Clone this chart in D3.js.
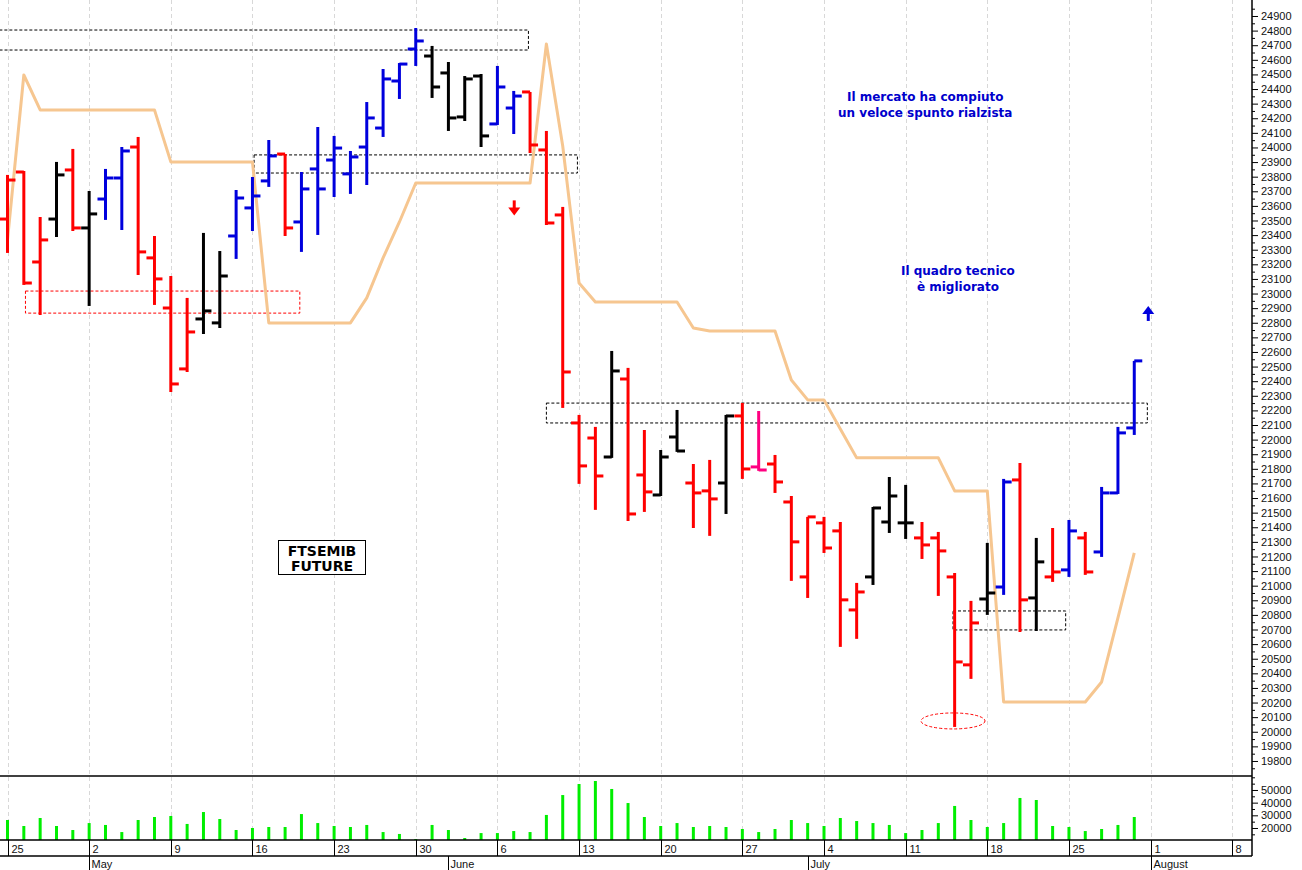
<!DOCTYPE html>
<html><head><meta charset="utf-8">
<script src="https://cdn.jsdelivr.net/npm/d3@7"></script>
<style>body{margin:0;background:#fff}svg{display:block}</style>
</head><body>
<script>
const open  = [23510,23832,23216,23510,23846,23449,23647,23791,24003,23244,22901,22484,22826,22799,23394,23586,23771,23955,23490,23853,23914,23819,24003,24133,24455,24674,24626,24510,24209,24489,24161,24270,24380,23983,23538,22114,22011,21881,22415,21758,21621,22018,21703,21649,21703,22162,21813,21833,21573,21060,21430,21375,20834,21060,21436,21430,21327,21327,21060,20458,20909,20991,21724,20916,21060,21108,21327,21231,21635,22080];
const high  = [23812,23839,23524,23901,23990,23702,23853,24003,24072,23394,23120,22970,23415,23291,23709,23798,24051,23955,23832,24140,24079,23976,24311,24537,24578,24818,24695,24585,24489,24503,24558,24387,24380,24113,23593,22169,22087,22607,22491,22066,21929,22203,21833,21861,22169,22251,22196,21895,21614,21471,21471,21436,21019,21539,21744,21690,21436,21368,21087,20896,21293,21731,21840,21327,21395,21450,21368,21676,22087,22539];
const low   = [23278,23059,22853,23387,23428,22915,23504,23435,23127,22922,22326,22463,22723,22764,23237,23428,23730,23394,23285,23401,23661,23682,23743,24072,24332,24558,24339,24113,24181,24003,24154,24092,23962,23469,22217,21697,21519,21875,21443,21505,21614,21916,21395,21341,21491,21731,21786,21635,21033,20916,21224,20581,20636,21005,21361,21320,21183,20930,20033,20362,20800,20937,20683,20690,21026,21060,21074,21197,21628,22032];
const close = [23777,23072,23367,23812,23449,23545,23791,23976,23285,23100,22381,22737,22881,23120,23654,23668,23942,23449,23716,23716,23996,23935,24202,24469,24571,24729,24414,24202,24469,24079,24414,24352,24017,23483,22463,21820,21751,22470,21491,21642,21881,21922,21635,21594,22162,21799,21792,21710,21300,21471,21258,20903,20957,21532,21614,21430,21279,21238,20478,20745,20950,21710,20903,21163,21094,21375,21094,21635,22046,22539];
const barColor = ["r","r","r","k","r","k","b","b","r","r","r","r","k","k","b","b","b","r","b","b","b","b","b","b","b","b","k","k","k","k","b","b","r","r","r","r","r","k","r","r","k","k","r","r","k","r","m","r","r","r","r","r","r","k","k","k","r","r","r","r","k","b","r","k","r","b","r","b","b","b"];
const stopLine = [23367,24496,24257,24257,24257,24257,24257,24257,24257,24257,23901,23901,23901,23901,23901,23901,22799,22799,22799,22799,22799,22799,22970,23244,23490,23757,23757,23757,23757,23757,23757,23757,23757,24708,24010,23072,22942,22942,22942,22942,22942,22942,22764,22744,22744,22744,22744,22744,22408,22272,22272,22073,21875,21875,21875,21875,21875,21875,21649,21649,21649,20204,20204,20204,20204,20204,20204,20341,20779,21224];
const volume = [26300,21600,27900,21600,18400,23900,22400,16800,26300,28700,29500,23200,32600,27100,18400,20000,20800,20800,31000,23900,21600,20800,22400,16800,15300,11300,22400,18400,12100,16000,16000,17600,16800,30300,46000,54700,57100,50800,39700,28700,21600,23900,20800,21600,20800,19200,16800,19200,26300,23900,21600,27900,25500,23900,22400,16000,18400,23900,37400,26300,20800,23900,43700,42100,21600,20800,17600,19200,22400,28700];
const dayTicks = [[0,"25"],[5,"2"],[10,"9"],[15,"16"],[20,"23"],[25,"30"],[30,"6"],[35,"13"],[40,"20"],[45,"27"],[50,"4"],[55,"11"],[60,"18"],[65,"25"],[70,"1"],[75,"8"]];
const monthTicks = [[5,"May"],[27,"June"],[49,"July"],[70,"August"]];
const priceTicks = d3.range(19800, 24901, 100);
const volTicks = [20000,30000,40000,50000];
// annotation zones: [startIndex, endIndex, upperPrice, lowerPrice, color]
const zones = [[-0.5,31.9,24804,24667,"#000"],[15.1,34.9,23949,23825,"#000"],[1.1,17.9,23017,22866,"red"],[33,69.8,22250,22114,"#000"],[57.9,64.8,20827,20697,"#000"]];
const notes = [[56.2,24315,"Il mercato ha compiuto"],[56.2,24210,"un veloce spunto rialzista"],[58.2,23125,"Il quadro tecnico"],[58.2,23020,"è migliorato"]];

const W=1302,H=870, axX=1252;
const colors={r:"#ff0000",k:"#000000",b:"#0000dd",m:"#ff0080"};
const svg=d3.select("body").append("svg").attr("width",W).attr("height",H);
const x=d3.scaleLinear().domain([0,69]).range([7.5,7.5+16.33*69]);
const y=d3.scaleLinear().domain([19704,25009.5]).range([775,0]);
const yv=d3.scaleLinear().domain([10530,61030]).range([840,776]);

const grid=svg.append("g");
dayTicks.forEach(([k])=>{const gx=Math.round(x(k))+0.5; if(gx<axX) grid.append("line").attr("x1",gx).attr("x2",gx).attr("y1",0).attr("y2",840).attr("stroke","#d8d8d8").attr("stroke-dasharray","4,3");});

zones.forEach(([a,b,p1,p2,c])=>{svg.append("rect").attr("x",x(a)).attr("y",y(p1)).attr("width",x(b)-x(a)).attr("height",y(p2)-y(p1)).attr("fill","none").attr("stroke",c).attr("stroke-width",1).attr("stroke-dasharray","3,2");});
svg.append("ellipse").attr("cx",x(57.9)).attr("cy",y(20074)).attr("rx",32).attr("ry",8).attr("fill","none").attr("stroke","red").attr("stroke-dasharray","3,2");

svg.append("path").datum(stopLine).attr("d",d3.line().x((d,i)=>x(i)).y(d=>y(d))).attr("fill","none").attr("stroke","#f6c690").attr("stroke-width",3).attr("stroke-linejoin","round");

const bars=svg.append("g");
open.forEach((o,i)=>{
  const c=colors[barColor[i]], cx=x(i);
  bars.append("line").attr("x1",cx).attr("x2",cx).attr("y1",y(high[i])).attr("y2",y(low[i])).attr("stroke",c).attr("stroke-width",3);
  bars.append("line").attr("x1",cx-8).attr("x2",cx).attr("y1",y(o)).attr("y2",y(o)).attr("stroke",c).attr("stroke-width",3);
  bars.append("line").attr("x1",cx).attr("x2",cx+8).attr("y1",y(close[i])).attr("y2",y(close[i])).attr("stroke",c).attr("stroke-width",3);
});

volume.forEach((v,i)=>{svg.append("line").attr("x1",x(i)).attr("x2",x(i)).attr("y1",yv(v)).attr("y2",840).attr("stroke","#00ee00").attr("stroke-width",3);});

svg.append("line").attr("x1",0).attr("x2",axX).attr("y1",776).attr("y2",776).attr("stroke","#000").attr("stroke-width",1.5);
svg.append("line").attr("x1",0).attr("x2",axX).attr("y1",840).attr("y2",840).attr("stroke","#000").attr("stroke-width",1.5);
svg.append("line").attr("x1",0).attr("x2",axX).attr("y1",856).attr("y2",856).attr("stroke","#000").attr("stroke-width",1.5);
svg.append("line").attr("x1",axX).attr("x2",axX).attr("y1",0).attr("y2",856).attr("stroke","#000").attr("stroke-width",1.5);

const pa=svg.append("g").attr("transform",`translate(${axX},0)`).call(d3.axisRight(y).tickValues(priceTicks).tickSize(6).tickFormat(d3.format("d")));
pa.select(".domain").remove();
pa.selectAll("text").attr("font-family","Liberation Sans, Arial").attr("font-size",11).attr("fill","#111");
const minor=d3.range(19750,24951,100);
svg.append("g").attr("transform",`translate(${axX},0)`).call(d3.axisRight(y).tickValues(minor).tickSize(3).tickFormat("")).select(".domain").remove();
const va=svg.append("g").attr("transform",`translate(${axX},0)`).call(d3.axisRight(yv).tickValues(volTicks).tickSize(6).tickFormat(d3.format("d")));
va.select(".domain").remove();
va.selectAll("text").attr("font-family","Liberation Sans, Arial").attr("font-size",11).attr("fill","#111");
svg.append("g").attr("transform",`translate(${axX},0)`).call(d3.axisRight(yv).tickValues([15000,25000,35000,45000,55000,60000]).tickSize(3).tickFormat("")).select(".domain").remove();

dayTicks.forEach(([k,t])=>{const gx=Math.round(x(k))+0.5;
  svg.append("line").attr("x1",gx).attr("x2",gx).attr("y1",840).attr("y2",856).attr("stroke","#000");
  svg.append("text").attr("x",gx+3).attr("y",853).text(t).attr("font-family","Liberation Sans, Arial").attr("font-size",11).attr("fill","#111");});
monthTicks.forEach(([k,t])=>{const gx=Math.round(x(k))+0.5;
  svg.append("line").attr("x1",gx).attr("x2",gx).attr("y1",856).attr("y2",870).attr("stroke","#000");
  svg.append("text").attr("x",gx+2).attr("y",868).text(t).attr("font-family","Liberation Sans, Arial").attr("font-size",11).attr("fill","#111");});

notes.forEach(([k,p,t])=>svg.append("text").attr("x",x(k)).attr("y",y(p)).attr("text-anchor","middle").text(t).attr("font-family","DejaVu Sans, Verdana").attr("font-weight","bold").attr("font-size",12).attr("fill","#0000cc"));

svg.append("rect").attr("x",278.5).attr("y",540.5).attr("width",87).attr("height",34).attr("fill","#fff").attr("stroke","#000");
[["FTSEMIB",556],["FUTURE",571]].forEach(([t,yy])=>svg.append("text").attr("x",322).attr("y",yy).attr("text-anchor","middle").text(t).attr("font-family","DejaVu Sans, Verdana").attr("font-weight","bold").attr("font-size",14).attr("fill","#000"));

function arrow(cx,tipY,dir,c){const g=svg.append("g");
  g.append("line").attr("x1",cx).attr("x2",cx).attr("y1",tipY-dir*15).attr("y2",tipY-dir*5).attr("stroke",c).attr("stroke-width",3);
  g.append("path").attr("d",`M${cx-6},${tipY-dir*8}L${cx+6},${tipY-dir*8}L${cx},${tipY}Z`).attr("fill",c);}
arrow(x(31)+0.5,y(23535),1,"#ff0000");
arrow(x(69)+14,y(22915),-1,"#0000dd");
</script>
</body></html>
